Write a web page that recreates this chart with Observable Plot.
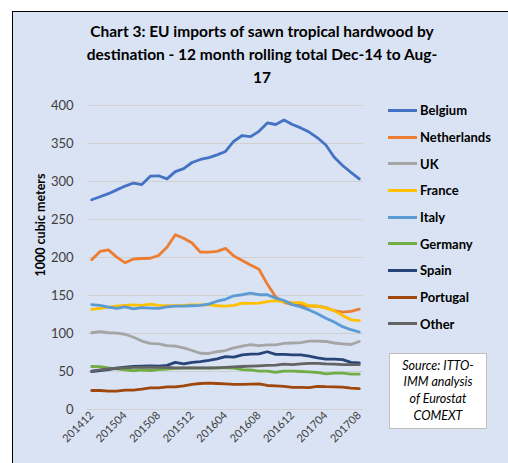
<!DOCTYPE html>
<html><head><meta charset="utf-8">
<script src="https://cdn.jsdelivr.net/npm/d3@7"></script>
<script src="https://cdn.jsdelivr.net/npm/@observablehq/plot@0.6"></script>
<style>
body{margin:0;background:#fff;}
#wrap{position:relative;width:508px;height:463px;overflow:hidden;font-family:Lato,"Open Sans",sans-serif;}
#panel{position:absolute;left:12px;top:11px;width:600px;height:600px;background:#dae3f3;border-left:1px solid #000;border-top:1px solid #000;}
#title{position:absolute;left:12px;width:500px;top:20px;text-align:center;font-weight:bold;font-size:15.5px;line-height:23px;color:#000;}
#chart{position:absolute;left:0;top:0;}
#legend{position:absolute;left:388px;top:97px;}
.li{height:26.7px;display:flex;align-items:center;font-weight:bold;font-size:13px;color:#000;}
.sw{width:29px;height:3px;margin-right:3px;}
#source{position:absolute;left:389px;top:353px;width:96px;height:74px;background:#fff;border:1px solid #bfbfbf;font-style:italic;font-size:12.5px;line-height:16.7px;text-align:center;display:flex;align-items:center;justify-content:center;color:#000;}
#ytitle{position:absolute;left:40px;top:225px;transform:translate(-50%,-50%) rotate(-90deg);font-weight:bold;font-size:12.5px;white-space:nowrap;color:#000;}
</style></head>
<body>
<div id="wrap">
<div id="panel"></div>
<div id="title">Chart 3: EU imports of sawn tropical hardwood by<br>destination - 12 month rolling total Dec-14 to Aug-<br>17</div>
<div id="ytitle">1000 cubic meters</div>
<div id="chart"></div>
<div id="legend"></div>
<div id="source">Source: ITTO-<br>IMM analysis<br>of Eurostat<br>COMEXT</div>
</div>
<script>
const months = ["201412","201501","201502","201503","201504","201505","201506","201507","201508","201509","201510","201511","201512","201601","201602","201603","201604","201605","201606","201607","201608","201609","201610","201611","201612","201701","201702","201703","201704","201705","201706","201707","201708"];
const tickMonths = ["201412","201504","201508","201512","201604","201608","201612","201704","201708"];
const yTicks = [0,50,100,150,200,250,300,350,400];
const seriesNames = ["Belgium","Netherlands","UK","France","Italy","Germany","Spain","Portugal","Other"];
const seriesColors = ["#4472c4","#ed7d31","#a5a5a5","#ffc000","#5b9bd5","#70ad47","#264478","#9e480e","#636363"];

const belgium = [276,280,284,289,294,298,296,307,307.5,303.5,313,317,325,329,331.5,335,339.5,353,360.5,359,366,377,375,381,375,370.5,365,357.5,348,332,321,312,303.5];
const netherlands = [197,208,210,200.5,193,198,198.7,199,202.6,213.6,230,225.4,219,207,207,208,212,202,196,190,184.6,165,148,141,138,137,136,136,134,130,128,129,132];
const uk = [101,102.6,101,100.4,99,95,90,87,86.4,84,83.3,81,77.6,74,73.7,76,77.6,81,83.3,85.5,84,85,85,87,87.5,88,90,90,89.5,87.5,86.4,85.5,89.5];
const france = [131.6,133,134.6,136,137,137.7,137,138.6,137,136.5,136.5,137,137.7,137.7,138,136.5,136,137,140,139.6,140,142,143.4,141.7,140.7,140.7,136.5,136,133.3,130,123.7,118,117];
const italy = [138,137,134.6,133,135,132.5,134,133.5,133,135,136,136,136.5,137,138.6,142.5,145,149.6,151,153,151,151,146.5,143.4,138,135,131,126,120,115,109,105,102];
const germany = [56.6,56.4,54.8,53.5,52,51,52,51.3,52.6,53,54,54.4,54.4,54.4,54.4,54.8,54.8,54.4,52.6,52,50.4,50.4,49,50.4,50.4,50,49.6,48.7,47,47.8,47.8,46.5,46.5];
const spain = [50,51.3,52.6,54.4,55.7,56.6,57,57.5,57,58,62,60,62,63,64.5,66.7,69.7,69,72,72.8,73.2,76,72.6,72.6,71.9,71.9,70.2,68,66.2,66.2,65.6,62,61.3];
const portugal = [25,25,24.3,24.3,25.6,25.6,26.7,28.5,28.5,29.8,29.8,31,33,34.2,34.7,34.2,33.8,33,33,33.3,33.8,31.6,31,30.5,29,29,28.7,30.5,30,29.8,29.4,28,27.4];
const other = [50.4,52,53.5,54.4,54.8,55.3,55.3,55.7,55.3,55.3,54.8,54.8,54.8,54.8,54.8,54.8,55.3,56,56.6,57,57.5,58,58.3,59.6,59,60,60.8,60.8,60,59.6,59,59,59];

const seriesValues = [belgium,netherlands,uk,france,italy,germany,spain,portugal,other];
const data = seriesNames.flatMap((name, s) => seriesValues[s].map((v, i) => ({name, i, v})));
const tickIdx = tickMonths.map(m => months.indexOf(m));

const plot = Plot.plot({
  width: 508, height: 463,
  marginLeft: 87, marginRight: 145, marginTop: 105, marginBottom: 54,
  style: {background: "transparent", fontFamily: "Lato, 'Open Sans', sans-serif", fontSize: "13px", color: "#404040"},
  x: {domain: [-0.5, 32.5]},
  y: {domain: [0, 400]},
  color: {domain: seriesNames, range: seriesColors},
  marks: [
    Plot.gridY(yTicks, {stroke: "#d0d0d0", strokeOpacity: 1, strokeWidth: 1}),
    Plot.axisY(yTicks, {tickSize: 0, tickPadding: 14, fontSize: 13, label: null, fill: "#404040"}),
    Plot.axisX(tickIdx, {tickSize: 0, tickPadding: 4, tickRotate: -45, fontSize: 11, tickFormat: i => months[i], label: null, fill: "#404040"}),
    Plot.lineY(data, {x: "i", y: "v", z: "name", stroke: "name", strokeWidth: 2.8, strokeLinejoin: "round", strokeLinecap: "round"})
  ]
});
document.getElementById("chart").appendChild(plot);

const legend = document.getElementById("legend");
seriesNames.forEach((n, k) => {
  const row = document.createElement("div");
  row.className = "li";
  const sw = document.createElement("span");
  sw.className = "sw";
  sw.style.background = seriesColors[k];
  row.appendChild(sw);
  row.appendChild(document.createTextNode(n));
  legend.appendChild(row);
});
</script>
</body></html>
